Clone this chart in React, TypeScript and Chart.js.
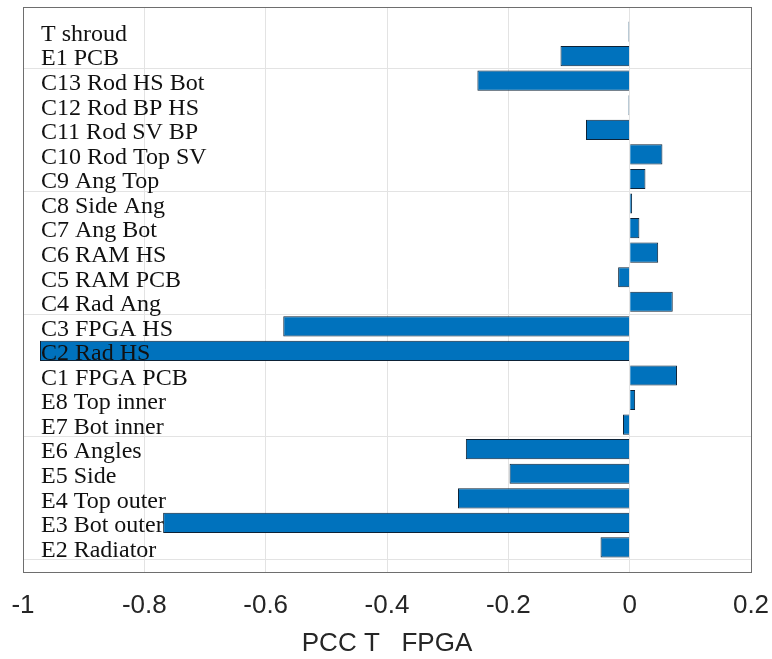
import React, { useEffect, useRef } from 'react';
import { Chart, registerables } from 'chart.js';

Chart.register(...registerables);

const categories = [
  'T shroud', 'E1 PCB', 'C13 Rod HS Bot', 'C12 Rod BP HS', 'C11 Rod SV BP', 'C10 Rod Top SV',
  'C9 Ang Top', 'C8 Side Ang', 'C7 Ang Bot', 'C6 RAM HS', 'C5 RAM PCB', 'C4 Rad Ang',
  'C3 FPGA HS', 'C2 Rad HS', 'C1 FPGA PCB', 'E8 Top inner', 'E7 Bot inner', 'E6 Angles',
  'E5 Side', 'E4 Top outer', 'E3 Bot outer', 'E2 Radiator',
];
const pccValues = [
  -0.002, -0.114, -0.251, -0.002, -0.072, 0.054,
  0.026, 0.004, 0.016, 0.047, -0.019, 0.071,
  -0.571, -0.972, 0.078, 0.009, -0.011, -0.27,
  -0.198, -0.283, -0.769, -0.048,
];
const xTicks = [-1, -0.8, -0.6, -0.4, -0.2, 0, 0.2];
const xTitle = 'PCC T   FPGA';

const boxPlugin = {
  id: 'boxPlugin',
  afterDraw(chart: any) {
    const { ctx, chartArea } = chart;
    ctx.save();
    ctx.strokeStyle = '#6e6e6e';
    ctx.lineWidth = 1;
    ctx.strokeRect(
      Math.round(chartArea.left) + 0.5,
      Math.round(chartArea.top) + 0.5,
      Math.round(chartArea.right - chartArea.left),
      Math.round(chartArea.bottom - chartArea.top)
    );
    ctx.restore();
  },
};

export default function App() {
  const ref = useRef<HTMLCanvasElement>(null);

  useEffect(() => {
    if (!ref.current) return;
    const labels = ['', ...categories, ''];
    const data = [null, ...pccValues, null];
    const n = labels.length - 1;
    const chart = new Chart(ref.current, {
      type: 'bar',
      data: {
        labels,
        datasets: [
          {
            data,
            backgroundColor: '#0072BD',
            borderColor: '#0d2236',
            borderWidth: 1,
            barPercentage: 0.82,
            categoryPercentage: 1,
          },
        ],
      },
      options: {
        indexAxis: 'y',
        responsive: false,
        animation: false,
        layout: { padding: { left: 23, right: 21, top: 7, bottom: 0 } },
        plugins: {
          legend: { display: false },
          tooltip: { enabled: false },
        },
        scales: {
          x: {
            type: 'linear',
            min: -1,
            max: 0.2,
            afterBuildTicks: (s: any) => {
              s.ticks = xTicks.map((v) => ({ value: v }));
            },
            afterFit: (s: any) => {
              s.height = 87;
              s.paddingLeft = 0;
              s.paddingRight = 0;
            },
            grid: { color: '#e3e3e3', drawTicks: false },
            border: { display: false },
            ticks: {
              padding: 18,
              color: '#262626',
              font: { family: 'Liberation Sans', size: 26 },
              callback: (v: any) => String(Number(Number(v).toFixed(1))),
            },
            title: {
              display: true,
              text: xTitle,
              color: '#262626',
              font: { family: 'Liberation Sans', size: 26 },
              padding: { top: 0, bottom: 0 },
            },
          },
          y: {
            type: 'category',
            position: 'left',
            offset: false,
            afterFit: (s: any) => {
              s.width = 0;
              s.paddingTop = 0;
              s.paddingBottom = 0;
            },
            grid: {
              drawTicks: false,
              color: (c: any) => ((n - c.index) % 5 === 0 ? '#e3e3e3' : 'rgba(0,0,0,0)'),
            },
            border: { display: false },
            ticks: {
              mirror: true,
              autoSkip: false,
              padding: 18,
              labelOffset: 3,
              z: 1,
              color: '#111111',
              font: { family: 'Liberation Serif', size: 24 },
            },
          },
        },
      },
      plugins: [boxPlugin],
    } as any);
    return () => chart.destroy();
  }, []);

  return (
    <div style={{ position: 'absolute', left: 0, top: 0, width: 772, height: 659, background: '#fff' }}>
      <canvas ref={ref} width={772} height={659} style={{ display: 'block' }} />
    </div>
  );
}
